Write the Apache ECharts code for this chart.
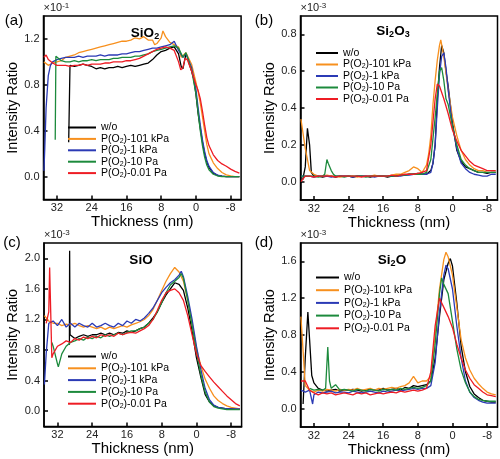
<!DOCTYPE html>
<html><head><meta charset="utf-8">
<script src="https://cdn.jsdelivr.net/npm/echarts@6/dist/echarts.min.js"></script>
<style>html,body{margin:0;padding:0;background:#fff}#c{width:500px;height:459px}</style>
</head><body><div id="c"></div>
<script>
// shared thickness grid (nm), 35 .. -10
const thickness = [35,34,33,32,31,30,29,28,27,26,25,24,23,22,21,20,19,18,17,16,15,14,13,12,11,10,9,8,7,6,5,4,3,2,1,0,-1,-2,-3,-4,-5,-6,-7,-8,-9,-10];
const seriesNames = ['w/o','P(O2)-101 kPa','P(O2)-1 kPa','P(O2)-10 Pa','P(O2)-0.01 Pa'];
const xTicks = [32,24,16,8,0,-8];

// (a) SiO2, x10^-1
const sio2_wo = [null,null,null,null,null,null,0.97,0.96,0.97,0.98, 0.97,0.96,0.94,0.95,0.94,0.95,0.95,0.96,0.95,0.96, 0.97,0.96,0.97,0.98,0.99,1.02,1.06,1.09,1.10,1.12, 1.13,1.07,0.94,1.05,0.92,0.72,0.42,0.20,0.08,0.03, 0.01,0.003,0,0,0,0];
const sio2_wo_x = [[29.3,0.30],[3.4,0.96],[2.3,1.07],[1.6,0.99],[0.5,0.85],[-0.5,0.55],[-1.5,0.3],[-2.5,0.13]];
const sio2_101 = [1.00,0.97,0.99,1.00,1.01,1.04,1.05,1.06,1.08,1.09, 1.10,1.11,1.12,1.13,1.14,1.15,1.16,1.17,1.18,1.18, 1.19,1.21,1.20,1.22,1.19,1.19,1.16,1.21,1.22,1.17, 1.15,1.13,1.05,1.07,0.98,0.82,0.64,0.40,0.20,0.12, 0.07,0.035,0.015,0.005,0,0];
const sio2_101_x = [[7.6,1.27],[9.5,1.15],[3.4,1.04],[2.3,1.08],[-0.5,0.74],[-1.5,0.52],[-2.5,0.28]];
const sio2_1k = [0.05,0.88,1.00,1.02,1.03,1.04,1.04,1.04,1.05,1.04, 1.05,1.05,1.05,1.06,1.05,1.06,1.06,1.06,1.07,1.07, 1.08,1.09,1.09,1.10,1.11,1.12,1.12,1.13,1.14,1.15, 1.18,1.10,1.04,1.06,0.95,0.76,0.45,0.22,0.09,0.035, 0.012,0.004,0,0,0,0];
const sio2_1k_x = [[34.8,0.25],[34.5,0.6],[33.5,0.97],[4.6,1.19],[2.3,1.07],[-0.5,0.6],[-1.5,0.32],[-2.5,0.14]];
const sio2_10 = [null,null,null,1.04,1.01,1.00,1.00,1.01,1.00,1.01, 1.01,1.02,1.01,1.02,1.02,1.02,1.03,1.03,1.04,1.04, 1.04,1.05,1.05,1.06,1.07,1.09,1.10,1.11,1.12,1.13, 1.14,1.12,1.04,1.07,0.93,0.72,0.40,0.17,0.06,0.02, 0.005,0,0,0,0,0];
const sio2_10_x = [[32.4,0.32],[32.25,1.05],[2.3,1.08],[-0.5,0.56],[-1.5,0.27],[-2.5,0.1]];
const sio2_001 = [1.04,1.02,0.99,0.97,0.97,0.97,0.96,0.97,0.97,0.98, 0.97,0.98,0.98,0.98,0.99,0.99,1.00,1.00,1.00,1.01, 1.01,1.02,1.03,1.05,1.07,1.09,1.11,1.12,1.13,1.12, 1.10,1.00,0.95,1.02,0.92,0.80,0.68,0.45,0.27,0.19, 0.14,0.11,0.09,0.065,0.045,0.03];
const sio2_001_x = [[34.5,1.06],[3.5,0.93],[2.5,1.03],[-0.5,0.75],[-1.5,0.57],[-2.5,0.34]];

// (b) Si2O3, x10^-3
const si2o3_wo = [null,0.08,0.20,0.03,0.03,0.025,0.03,0.03,0.025,0.03, 0.03,0.03,0.025,0.03,0.03,0.03,0.025,0.03,0.03,0.03, 0.025,0.03,0.03,0.035,0.035,0.04,0.04,0.045,0.04,0.04, 0.06,0.20,0.62,0.70,0.52,0.32,0.17,0.11,0.08,0.07, 0.06,0.05,0.05,0.045,0.05,0.05];
const si2o3_wo_x = [[34.6,0.01],[33.5,0.29],[32.6,0.05],[4.5,0.1],[3.5,0.45],[2.5,0.74],[1.5,0.6],[0.5,0.42]];
const si2o3_101 = [0.34,0.18,0.06,0.04,0.03,0.03,0.035,0.03,0.03,0.025, 0.03,0.03,0.03,0.025,0.03,0.03,0.03,0.035,0.03,0.03, 0.03,0.035,0.04,0.04,0.05,0.06,0.08,0.07,0.05,0.09, 0.25,0.55,0.74,0.68,0.50,0.35,0.25,0.17,0.12,0.09, 0.07,0.06,0.06,0.05,0.05,0.05];
const si2o3_101_x = [[5.5,0.15],[4.5,0.42],[3.5,0.66],[2.7,0.77]];
const si2o3_1k = [0.03,0.03,0.03,0.025,0.03,0.03,0.03,0.025,0.03,0.03, 0.03,0.03,0.025,0.03,0.03,0.03,0.03,0.025,0.03,0.03, 0.03,0.03,0.03,0.03,0.035,0.035,0.04,0.04,0.04,0.04, 0.05,0.20,0.58,0.70,0.50,0.30,0.18,0.10,0.07,0.05, 0.04,0.035,0.03,0.03,0.04,0.04];
const si2o3_1k_x = [[4.5,0.1],[3.5,0.4],[2.5,0.68],[1.5,0.62],[0.5,0.4]];
const si2o3_10 = [0.03,0.03,0.03,0.03,0.025,0.03,0.12,0.06,0.03,0.03, 0.025,0.03,0.03,0.03,0.03,0.025,0.03,0.03,0.03,0.03, 0.03,0.03,0.03,0.035,0.035,0.04,0.04,0.04,0.04,0.05, 0.12,0.35,0.60,0.55,0.42,0.30,0.20,0.12,0.09,0.07, 0.06,0.05,0.05,0.05,0.05,0.05];
const si2o3_10_x = [[29.5,0.04],[28.7,0.1],[27.5,0.04],[2.5,0.62],[1.5,0.45]];
const si2o3_001 = [0.0,0.03,0.03,0.025,0.03,0.03,0.03,0.03,0.025,0.03, 0.03,0.03,0.03,0.03,0.025,0.03,0.03,0.03,0.03,0.03, 0.03,0.035,0.03,0.035,0.04,0.04,0.04,0.045,0.05,0.06, 0.20,0.45,0.52,0.45,0.37,0.28,0.22,0.17,0.14,0.11, 0.09,0.08,0.07,0.06,0.06,0.06];
const si2o3_001_x = [[3.5,0.53]];

// (c) SiO, x10^-3
const sio_wo = [null,null,null,null,null,null,1.00,0.95,0.98,1.00, 0.98,1.00,1.00,1.02,1.00,1.02,1.00,1.03,1.02,1.05, 1.03,1.05,1.08,1.10,1.15,1.22,1.30,1.42,1.52,1.60, 1.68,1.66,1.58,1.35,1.05,0.70,0.45,0.22,0.12,0.07, 0.05,0.04,0.03,0.03,0.03,0.03];
const sio_wo_x = [[29.25,0.87],[29.2,2.1],[29.1,1.0]];
const sio_101 = [1.25,1.18,1.15,1.15,1.12,1.14,1.13,1.15,1.12,1.10, 1.12,1.10,1.08,1.10,1.07,1.10,1.08,1.10,1.12,1.10, 1.13,1.15,1.17,1.20,1.25,1.33,1.45,1.58,1.70,1.80, 1.88,1.82,1.70,1.45,1.15,0.82,0.60,0.42,0.30,0.20, 0.14,0.10,0.07,0.05,0.04,0.03];
const sio_101_x = [];
const sio_1k = [0.35,1.15,1.18,1.12,1.20,1.10,1.15,1.10,1.15,1.12, 1.10,1.15,1.10,1.12,1.15,1.12,1.10,1.15,1.12,1.18, 1.15,1.20,1.18,1.22,1.28,1.35,1.45,1.55,1.62,1.68, 1.72,1.78,1.76,1.50,1.20,0.85,0.55,0.30,0.15,0.08, 0.05,0.04,0.03,0.03,0.03,0.03];
const sio_1k_x = [[34.6,0.75],[3.5,1.83]];
const sio_10 = [null,null,0.85,0.62,0.75,0.85,0.90,0.92,0.95,0.93, 0.97,0.95,0.98,0.96,1.00,0.98,1.00,1.02,1.00,1.03, 1.05,1.05,1.08,1.10,1.15,1.20,1.30,1.42,1.55,1.65, 1.70,1.75,1.74,1.45,1.12,0.78,0.48,0.25,0.12,0.06, 0.04,0.03,0.02,0.02,0.02,0.02];
const sio_10_x = [[33.3,0.9],[31.8,0.58],[3.5,1.8]];
const sio_001 = [null,1.30,0.75,0.85,0.88,0.92,0.90,0.95,0.93,0.97, 0.95,0.98,0.96,1.00,0.98,1.00,0.98,1.02,1.00,1.02, 1.03,1.02,1.05,1.08,1.12,1.20,1.32,1.45,1.55,1.58, 1.60,1.55,1.45,1.25,1.00,0.75,0.60,0.52,0.45,0.38, 0.32,0.26,0.20,0.15,0.10,0.07];
const sio_001_x = [[34.6,1.15],[33.8,1.88],[33.3,0.7]];

// (d) Si2O, x10^-3
const si2o_wo = [null,0.55,0.75,0.28,0.22,0.20,0.19,0.20,0.21,0.19, 0.20,0.20,0.21,0.20,0.19,0.20,0.21,0.20,0.20,0.22, 0.20,0.21,0.22,0.20,0.23,0.22,0.25,0.24,0.25,0.26, 0.30,0.55,1.00,1.40,1.58,1.55,1.15,0.68,0.40,0.24, 0.16,0.12,0.09,0.08,0.07,0.07];
const si2o_wo_x = [[34.5,0.05],[33.4,1.05],[32.5,0.36],[0.5,1.63]];
const si2o_101 = [1.00,0.25,0.20,0.18,0.20,0.19,0.21,0.20,0.19,0.21, 0.20,0.21,0.20,0.22,0.20,0.21,0.22,0.20,0.22,0.21, 0.22,0.23,0.22,0.24,0.25,0.28,0.35,0.28,0.30,0.30, 0.35,0.80,1.30,1.62,1.65,1.45,1.10,0.75,0.55,0.42, 0.33,0.27,0.22,0.18,0.16,0.15];
const si2o_101_x = [[1.5,1.7]];
const si2o_1k = [0.20,0.18,0.20,0.15,0.18,0.17,0.18,0.19,0.17,0.18, 0.18,0.17,0.19,0.18,0.17,0.18,0.19,0.18,0.17,0.19, 0.18,0.19,0.20,0.19,0.20,0.21,0.22,0.21,0.22,0.22, 0.25,0.50,1.05,1.45,1.52,1.30,0.90,0.55,0.30,0.18, 0.12,0.09,0.07,0.06,0.06,0.06];
const si2o_1k_x = [[32.6,0.2],[32.3,0.05],[1.5,1.56]];
const si2o_10 = [null,null,0.22,0.20,0.21,0.20,0.22,0.22,0.26,0.20, 0.21,0.20,0.19,0.21,0.20,0.19,0.21,0.20,0.19,0.21, 0.20,0.21,0.20,0.22,0.21,0.22,0.23,0.22,0.23,0.25, 0.30,0.70,1.25,1.35,1.25,0.95,0.65,0.42,0.28,0.18, 0.13,0.10,0.09,0.08,0.08,0.08];
const si2o_10_x = [[29.3,0.22],[28.8,0.67],[28.4,0.3],[2.5,1.42]];
const si2o_001 = [0.30,0.30,0.20,0.17,0.15,0.17,0.16,0.17,0.15,0.16, 0.17,0.16,0.15,0.17,0.16,0.17,0.15,0.16,0.17,0.16, 0.17,0.18,0.17,0.19,0.18,0.19,0.20,0.19,0.20,0.22, 0.40,0.90,1.20,1.10,1.00,0.88,0.70,0.55,0.42,0.33, 0.26,0.22,0.18,0.15,0.14,0.13];
const si2o_001_x = [[2.7,1.22]];

const yTicksA = [0,0.4,0.8,1.2];
const yTicksB = [0,0.2,0.4,0.6,0.8];
const yTicksC = [0,0.4,0.8,1.2,1.6,2.0];
const yTicksD = [0,0.4,0.8,1.2,1.6];

const colors = ['#000000','#f7901e','#2b3ab5','#1c8a3c','#ee1c24'];
const FONT = 'Liberation Sans, Arial, Helvetica, sans-serif';

function build(ys, extra) {
  const pts = [];
  thickness.forEach((x, i) => { if (ys[i] !== null) pts.push([x, ys[i]]); });
  (extra || []).forEach(p => pts.push(p));
  pts.sort((a, b) => b[0] - a[0]);
  return pts;
}

const panels = [
  { grid:{left:43.5, top:16, width:197.6, height:183.5}, yMin:-0.2, yMax:1.4, yTicks:yTicksA,
    data:[[sio2_wo,sio2_wo_x],[sio2_101,sio2_101_x],[sio2_1k,sio2_1k_x],[sio2_10,sio2_10_x],[sio2_001,sio2_001_x]],
    legend:{left:68, top:122, w:28, gap:0.4}, title:'{m|SiO}{s|2}', tx:145, ty:33, tag:'(a)', gx:14, gy:21, exp:'-1' },
  { grid:{left:300.5, top:16, width:197, height:184}, yMin:-0.1, yMax:0.9, yTicks:yTicksB,
    data:[[si2o3_wo,si2o3_wo_x],[si2o3_101,si2o3_101_x],[si2o3_1k,si2o3_1k_x],[si2o3_10,si2o3_10_x],[si2o3_001,si2o3_001_x]],
    legend:{left:316, top:47.5, w:22, gap:0.5}, title:'{m|Si}{s|2}{m|O}{s|3}', tx:393, ty:31, tag:'(b)', gx:264, gy:21, exp:'-3' },
  { grid:{left:44, top:243, width:197.6, height:183.5}, yMin:-0.2, yMax:2.2, yTicks:yTicksC,
    data:[[sio_wo,sio_wo_x],[sio_101,sio_101_x],[sio_1k,sio_1k_x],[sio_10,sio_10_x],[sio_001,sio_001_x]],
    legend:{left:68, top:351, w:28, gap:0.8}, title:'{m|SiO}', tx:141, ty:260, tag:'(c)', gx:12, gy:243, exp:'-3' },
  { grid:{left:300.5, top:243, width:197, height:184}, yMin:-0.2, yMax:1.8, yTicks:yTicksD,
    data:[[si2o_wo,si2o_wo_x],[si2o_101,si2o_101_x],[si2o_1k,si2o_1k_x],[si2o_10,si2o_10_x],[si2o_001,si2o_001_x]],
    legend:{left:316, top:272, w:23, gap:1.7}, title:'{m|Si}{s|2}{m|O}', tx:392, ty:260, tag:'(d)', gx:264, gy:243, exp:'-3' }
];

const option = { animation:false, grid:[], xAxis:[], yAxis:[], series:[], legend:[], graphic:[] };

panels.forEach((p, i) => {
  option.grid.push(Object.assign({show:true, borderColor:'#000', borderWidth:1.5, backgroundColor:'transparent'}, p.grid));
  option.xAxis.push({
    gridIndex:i, type:'value', inverse:true, min:-10.4, max:35.1,
    name:'Thickness (nm)', nameLocation:'middle', nameGap:14,
    nameTextStyle:{fontSize:15, color:'#000', fontFamily:FONT},
    axisLine:{show:true, onZero:false, lineStyle:{color:'#000', width:1.5}},
    axisTick:{show:true, inside:true, length:4, customValues:xTicks, lineStyle:{color:'#000', width:1.5}},
    axisLabel:{show:true, customValues:xTicks, fontSize:11, color:'#222', fontFamily:FONT, margin:3, formatter:v => String(v)},
    splitLine:{show:false}
  });
  option.yAxis.push({
    gridIndex:i, type:'value', min:p.yMin, max:p.yMax,
    name:'Intensity Ratio', nameLocation:'middle', nameGap:18.5, nameRotate:90,
    nameTextStyle:{fontSize:14.5, color:'#000', fontFamily:FONT},
    axisLine:{show:true, onZero:false, lineStyle:{color:'#000', width:1.5}},
    axisTick:{show:true, inside:true, length:4, customValues:p.yTicks, lineStyle:{color:'#000', width:1.5}},
    axisLabel:{show:true, customValues:p.yTicks, fontSize:11, color:'#222', fontFamily:FONT, margin:4, formatter:v => v.toFixed(1)},
    splitLine:{show:false}
  });
  p.data.forEach((d, k) => {
    option.series.push({
      type:'line', name:seriesNames[k], xAxisIndex:i, yAxisIndex:i,
      data:build(d[0], d[1]), showSymbol:false, symbol:'none',
      lineStyle:{width:1.3, color:colors[k]}, itemStyle:{color:colors[k]}, z:2+k
    });
  });
  option.legend.push({
    orient:'vertical', left:p.legend.left, top:p.legend.top, padding:0,
    itemGap:p.legend.gap, itemWidth:p.legend.w, itemHeight:2, icon:'rect',
    selectedMode:false, data:seriesNames,
    formatter: name => name === 'w/o' ? '{t|w/o}' : '{t|P(O}{s|2}{t|' + name.slice(4) + '}',
    textStyle:{fontSize:10.5, color:'#000', fontFamily:FONT,
      rich:{ t:{fontSize:10.5, lineHeight:11, fontFamily:FONT, color:'#000'},
             s:{fontSize:7, lineHeight:5, verticalAlign:'bottom', fontFamily:FONT, color:'#000'} } }
  });
  option.graphic.push({
    type:'text', x:p.tx, y:p.ty, silent:true,
    style:{ text:p.title, align:'center', verticalAlign:'middle', textAlign:'center', textVerticalAlign:'middle',
      rich:{ m:{fontSize:13.5, fontWeight:'bold', lineHeight:16, fontFamily:FONT, fill:'#000'},
             s:{fontSize:9, fontWeight:'bold', lineHeight:7, verticalAlign:'bottom', fontFamily:FONT, fill:'#000'} } }
  });
  option.graphic.push({
    type:'text', x:p.gx, y:p.gy, silent:true,
    style:{ text:p.tag, fontSize:15, fontFamily:FONT, fill:'#000', align:'center', verticalAlign:'middle', textAlign:'center', textVerticalAlign:'middle' }
  });
  option.graphic.push({
    type:'text', x:p.grid.left, y:(p.grid.top - 8), silent:true,
    style:{ text:'{a|×10}{e|' + p.exp + '}', align:'left', verticalAlign:'middle', textAlign:'left', textVerticalAlign:'middle',
      rich:{ a:{fontSize:11, lineHeight:12, fontFamily:FONT, fill:'#222'},
             e:{fontSize:8, lineHeight:7, verticalAlign:'top', fontFamily:FONT, fill:'#222'} } }
  });
});

const chart = echarts.init(document.getElementById('c'), null, {renderer:'canvas'});
chart.setOption(option);
</script></body></html>
